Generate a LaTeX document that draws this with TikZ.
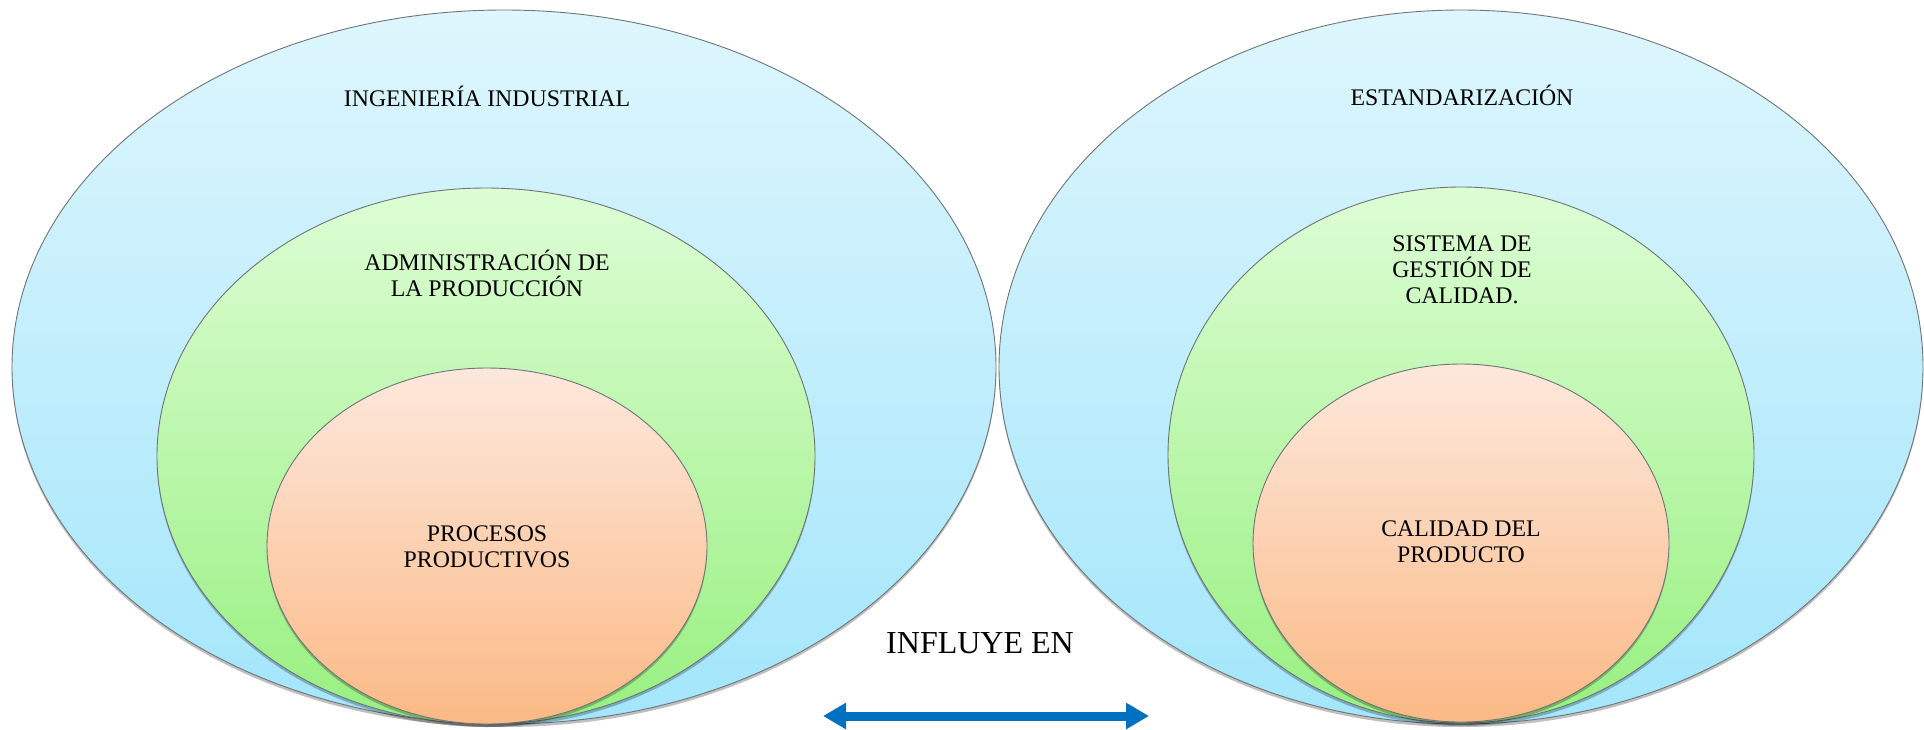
\documentclass[tikz,border=0pt]{standalone}
\usepackage{fontspec}
\setmainfont{Liberation Serif}
\usetikzlibrary{shapes.geometric,shadows,arrows.meta}

\definecolor{blueTop}{HTML}{DEF6FD}
\definecolor{blueBot}{HTML}{A3E6FB}
\definecolor{greenTop}{HTML}{DDFDD5}
\definecolor{greenBot}{HTML}{98F080}
\definecolor{orangeTop}{HTML}{FDE8DC}
\definecolor{orangeBot}{HTML}{FBB985}
\definecolor{arrowBlue}{HTML}{0070C0}
\definecolor{rimGray}{HTML}{6E7478}

\tikzset{
  ring/.style={ellipse, draw=rimGray, line width=0.9pt, inner sep=0pt,
    drop shadow={shadow xshift=0pt, shadow yshift=-3pt, opacity=0.25, fill=black}},
  outerring/.style={ring, top color=blueTop, bottom color=blueBot},
  midring/.style={ring, top color=greenTop, bottom color=greenBot},
  innerring/.style={ring, top color=orangeTop, bottom color=orangeBot},
  tag/.style={align=center, font=\fontsize{23.8}{26}\selectfont, inner sep=0pt},
  bigtag/.style={font=\fontsize{32}{36}\selectfont, inner sep=0pt},
  linkarrow/.style={arrowBlue, line width=9pt,
    {Triangle[width=25pt,length=23pt]}-{Triangle[width=25pt,length=23pt]}}
}

\begin{document}
\begin{tikzpicture}[x=1pt, y=-1pt]
\useasboundingbox (0,0) rectangle (1924,729);

% left group: nested fields
\node[outerring, minimum width=984pt, minimum height=714pt] (ingOuter) at (504,367) {};
\node[midring, minimum width=658pt, minimum height=536pt] (admMid) at (486,456) {};
\node[innerring, minimum width=440pt, minimum height=356pt] (procInner) at (487,546) {};

% right group: nested fields
\node[outerring, minimum width=924pt, minimum height=714pt] (estOuter) at (1461,367) {};
\node[midring, minimum width=586pt, minimum height=536pt] (sgcMid) at (1461,455) {};
\node[innerring, minimum width=416pt, minimum height=358pt] (calInner) at (1461,543) {};

% labels
\node[tag] (ingText) at (487,96) {INGENIERÍA INDUSTRIAL};
\node[tag] (admText) at (487,273) {ADMINISTRACIÓN DE\\LA PRODUCCIÓN};
\node[tag] (procText) at (487,547) {PROCESOS\\PRODUCTIVOS};
\node[tag] (estText) at (1462,95) {ESTANDARIZACIÓN};
\node[tag] (sgcText) at (1462,270) {SISTEMA DE\\GESTIÓN DE\\CALIDAD.};
\node[tag] (calText) at (1461,542) {CALIDAD DEL\\PRODUCTO};

\node[bigtag] (influye) at (980,643) {INFLUYE EN};

% two-way influence arrow
\coordinate (arrL) at (823,716);
\coordinate (arrR) at (1149,716);
\draw[linkarrow] (arrL) -- (arrR);
\end{tikzpicture}
\end{document}
